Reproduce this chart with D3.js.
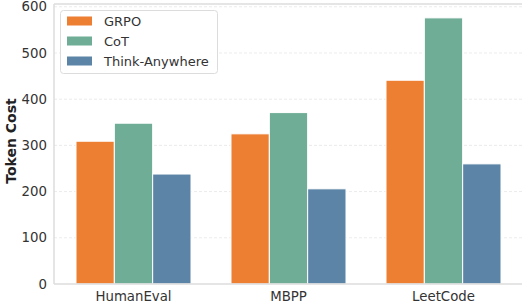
<!DOCTYPE html>
<html>
<head>
<meta charset="utf-8">
<script src="https://cdn.jsdelivr.net/npm/d3@7"></script>
<style>
  body { margin: 0; background: #fff; }
  svg { display: block; font-family: "DejaVu Sans", sans-serif; }
</style>
</head>
<body>
<div id="chart"></div>
<script>
const categories = ['HumanEval', 'MBPP', 'LeetCode'];
const methods = ['GRPO', 'CoT', 'Think-Anywhere'];
const grpo = [309, 325, 441];
const cot = [348, 371, 576];
const thinkAnywhere = [238, 206, 260];
const yTicks = [0, 100, 200, 300, 400, 500, 600];
const colors = ['#ED7F33', '#6FAD96', '#5B84A6'];

const width = 522, height = 307;
const plotLeft = 54, plotRight = 522, plotTop = 4, plotBottom = 284;

const seriesValues = [grpo, cot, thinkAnywhere];

const svg = d3.select('#chart').append('svg')
    .attr('width', width)
    .attr('height', height);

const x = d3.scaleBand()
    .domain(categories)
    .range([56, 521])
    .paddingInner(0.258)
    .paddingOuter(0.129);

const xSub = d3.scaleBand()
    .domain(methods)
    .range([0, x.bandwidth()]);

const y = d3.scaleLinear()
    .domain([0, 606])
    .range([plotBottom, plotTop]);

// grid
svg.append('g')
    .selectAll('line')
    .data(yTicks.filter(t => t > 0))
    .enter()
    .append('line')
    .attr('x1', plotLeft)
    .attr('x2', plotRight)
    .attr('y1', d => y(d))
    .attr('y2', d => y(d))
    .attr('stroke', '#e6e6e6')
    .attr('stroke-width', 0.8)
    .attr('stroke-dasharray', '3,2');

// bars
const groups = svg.append('g')
    .selectAll('g')
    .data(methods)
    .enter()
    .append('g')
    .attr('fill', (d, i) => colors[i]);

groups.selectAll('rect')
    .data((m, i) => categories.map((c, j) => ({ cat: c, method: m, value: seriesValues[i][j] })))
    .enter()
    .append('rect')
    .attr('x', d => x(d.cat) + xSub(d.method))
    .attr('y', d => y(d.value))
    .attr('width', xSub.bandwidth())
    .attr('height', d => y(0) - y(d.value))
    .attr('stroke', '#fff')
    .attr('stroke-width', 1);

// spines
const spine = '#dcdcdc';
svg.append('line')
    .attr('x1', plotLeft).attr('x2', plotRight)
    .attr('y1', plotTop).attr('y2', plotTop)
    .attr('stroke', spine).attr('stroke-width', 1.5);
svg.append('line')
    .attr('x1', plotLeft).attr('x2', plotLeft)
    .attr('y1', plotTop).attr('y2', plotBottom)
    .attr('stroke', spine).attr('stroke-width', 1.5);
svg.append('line')
    .attr('x1', plotLeft).attr('x2', plotRight)
    .attr('y1', plotBottom).attr('y2', plotBottom)
    .attr('stroke', spine).attr('stroke-width', 1.5);

// y tick labels
svg.append('g')
    .selectAll('text')
    .data(yTicks)
    .enter()
    .append('text')
    .attr('x', 47)
    .attr('y', d => y(d))
    .attr('dy', '0.35em')
    .attr('text-anchor', 'end')
    .attr('font-size', 13.3)
    .attr('fill', '#333')
    .text(d => d);

// x tick labels
svg.append('g')
    .selectAll('text')
    .data(categories)
    .enter()
    .append('text')
    .attr('x', d => x(d) + x.bandwidth() / 2)
    .attr('y', 296)
    .attr('dy', '0.35em')
    .attr('text-anchor', 'middle')
    .attr('font-size', 13.3)
    .attr('fill', '#333')
    .text(d => d);

// y axis label
svg.append('text')
    .attr('transform', 'translate(11,141) rotate(-90)')
    .attr('dy', '0.35em')
    .attr('text-anchor', 'middle')
    .attr('font-size', 14)
    .attr('font-weight', 'bold')
    .attr('fill', '#222')
    .text('Token Cost');

// legend
const legend = svg.append('g');
legend.append('rect')
    .attr('x', 60.5).attr('y', 10.5)
    .attr('width', 157).attr('height', 63)
    .attr('rx', 3)
    .attr('fill', '#fff')
    .attr('fill-opacity', 0.85)
    .attr('stroke', spine);

const item = legend.selectAll('g.item')
    .data(methods)
    .enter()
    .append('g')
    .attr('class', 'item')
    .attr('transform', (d, i) => `translate(0,${21 + i * 20})`);

item.append('rect')
    .attr('x', 67).attr('y', -4.5)
    .attr('width', 25).attr('height', 9)
    .attr('fill', (d, i) => colors[i]);

item.append('text')
    .attr('x', 104)
    .attr('dy', '0.35em')
    .attr('font-size', 13)
    .attr('fill', '#333')
    .text(d => d);
</script>
</body>
</html>
